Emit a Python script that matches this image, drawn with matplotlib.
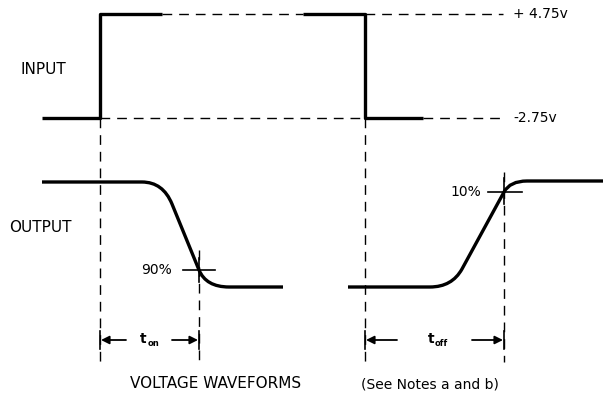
import matplotlib
matplotlib.use('Agg')
import matplotlib.pyplot as plt
from matplotlib.path import Path
from matplotlib.patches import PathPatch

# levels (pixel rows of the drawing)
in_high, in_low = 14, 118
out_high, out_low = 182, 287

# input pulse
in_x = [42, 100, 100, 162]
in_y = [in_low, in_low, in_high, in_high]
in2_x = [303, 365, 365, 423]
in2_y = [in_high, in_high, in_low, in_low]

# dashed reference lines
hdash = [  # (x0, x1, y)
    (162, 303, in_high), (365, 503, in_high),
    (100, 365, in_low), (423, 503, in_low),
]
vdash = [  # (x, y0, y1)
    (100, in_low, 362), (365, in_low, 362),
    (199, 250, 362), (504, 172, 362),
]
level_labels = ['+ 4.75v', '-2.75v']

# output waveforms (vertices + codes for bezier corners)
out1_pts = [(42, 182), (142, 182), (163, 182), (172, 204),
            (199, 270), (206, 287), (229, 287), (283, 287)]
out2_pts = [(348, 287), (430, 287), (452, 287), (462, 269),
            (504, 192), (510, 181), (527, 181), (603, 181)]
codes = [Path.MOVETO, Path.LINETO, Path.CURVE3, Path.CURVE3,
         Path.LINETO, Path.CURVE3, Path.CURVE3, Path.LINETO]

fig = plt.figure(figsize=(6.03, 3.96), dpi=100)
ax = fig.add_axes([0, 0, 1, 1])
ax.set_xlim(0, 603)
ax.set_ylim(396, 0)
ax.axis('off')

lw = 2.4
ax.plot(in_x, in_y, color='black', lw=lw, solid_capstyle='butt')
ax.plot(in2_x, in2_y, color='black', lw=lw, solid_capstyle='butt')

dash = dict(color='black', lw=1.0, linestyle=(0, (7, 5)))
for x0, x1, y in hdash:
    ax.plot([x0, x1], [y, y], **dash)
for x, y0, y1 in vdash:
    ax.plot([x, x], [y0, y1], **dash)

for pts in (out1_pts, out2_pts):
    ax.add_patch(PathPatch(Path(pts, codes), fill=False, lw=lw,
                           edgecolor='black', capstyle='butt'))

# crosshairs at 90% / 10%
ax.plot([183, 215], [270, 270], color='black', lw=1.2)
ax.plot([199, 199], [258, 282], color='black', lw=1.2)
ax.plot([488, 522], [192, 192], color='black', lw=1.2)
ax.plot([504, 504], [178, 204], color='black', lw=1.2)

fs = 10
ax.text(20, 70, 'INPUT', fontsize=11, va='center', ha='left')
ax.text(9, 227, 'OUTPUT', fontsize=11, va='center', ha='left')
ax.text(513, 14, level_labels[0], fontsize=fs, va='center', ha='left')
ax.text(513, 118, level_labels[1], fontsize=fs, va='center', ha='left')
ax.text(172, 270, '90%', fontsize=fs, va='center', ha='right')
ax.text(481, 192, '10%', fontsize=fs, va='center', ha='right')

# timing arrows
arrow_y = 340
arrows = [(126, 101), (172, 198), (397, 366), (472, 503)]
for x0, x1 in arrows:
    ax.annotate('', xy=(x1, arrow_y), xytext=(x0, arrow_y),
                arrowprops=dict(arrowstyle='-|>', color='black', lw=1.3,
                                mutation_scale=12, shrinkA=0, shrinkB=0))
for x in (100, 199, 365, 504):
    ax.plot([x, x], [331, 349], color='black', lw=1.2)

ax.text(147, 339, 't', fontsize=10, fontweight='bold', va='center', ha='right')
ax.text(148, 343, 'on', fontsize=6, fontweight='bold', va='center', ha='left')
ax.text(434, 339, 't', fontsize=10, fontweight='bold', va='center', ha='right')
ax.text(435, 343, 'off', fontsize=6, fontweight='bold', va='center', ha='left')

ax.text(216, 384, 'VOLTAGE WAVEFORMS', fontsize=11, va='center', ha='center')
ax.text(430, 384, '(See Notes a and b)', fontsize=fs, va='center', ha='center')

fig.savefig('out.png', dpi=100)
